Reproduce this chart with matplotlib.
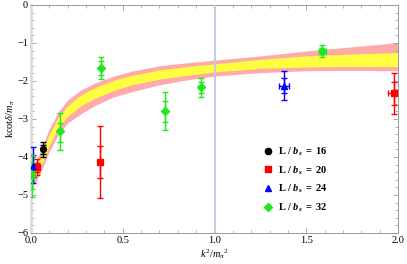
import numpy as np
import matplotlib
matplotlib.use("Agg")
import matplotlib.pyplot as plt
from matplotlib.ticker import MultipleLocator, FuncFormatter
from matplotlib.lines import Line2D

plt.rcParams["font.family"] = ["Liberation Serif", "DejaVu Serif"]
plt.rcParams["mathtext.fontset"] = "custom"
plt.rcParams["mathtext.rm"] = "Liberation Serif"
plt.rcParams["mathtext.it"] = "Liberation Serif:italic"
plt.rcParams["mathtext.bf"] = "Liberation Serif:bold"
plt.rcParams["mathtext.bfit"] = "Liberation Serif:bold:italic"

# ------------------------------------------------------------------
# fit band
# ------------------------------------------------------------------
band_x = [0.0, 0.03, 0.06, 0.1, 0.15, 0.2, 0.27, 0.35, 0.45, 0.55, 0.7, 0.85, 1.0, 1.25, 1.5, 1.75, 2.0]
pink_top = [-4.35, -4.08, -3.75, -3.25, -2.80, -2.50, -2.24, -2.05, -1.87, -1.74, -1.60, -1.52, -1.45, -1.34, -1.21, -1.10, -0.99]
yel_top = [-4.48, -4.22, -3.90, -3.40, -2.95, -2.65, -2.37, -2.17, -1.98, -1.85, -1.71, -1.62, -1.55, -1.43, -1.34, -1.29, -1.25]
yel_bot = [-4.70, -4.45, -4.15, -3.68, -3.22, -2.93, -2.66, -2.45, -2.25, -2.10, -1.95, -1.85, -1.76, -1.67, -1.63, -1.62, -1.62]
pink_bot = [-4.85, -4.62, -4.32, -3.85, -3.40, -3.10, -2.87, -2.64, -2.42, -2.28, -2.10, -1.97, -1.87, -1.78, -1.73, -1.72, -1.73]

# ------------------------------------------------------------------
# lattice points: value, stat range, total range
# ------------------------------------------------------------------
L16_x = [0.067]
L16_y = [-3.80]
L16_stat_hi = [-3.68]
L16_stat_lo = [-3.92]
L16_tot_hi = [-3.60]
L16_tot_lo = [-4.01]
L16_xerr = [0.0]

L20_x = [0.03, 0.376, 1.98]
L20_y = [-4.27, -4.14, -2.32]
L20_stat_hi = [-4.15, -3.71, -2.02]
L20_stat_lo = [-4.40, -4.54, -2.63]
L20_tot_hi = [-4.05, -3.18, -1.78]
L20_tot_lo = [-4.47, -5.08, -2.87]
L20_xerr = [0.005, 0.0, 0.035]

L24_x = [0.013, 1.379]
L24_y = [-4.24, -2.12]
L24_stat_hi = [-3.95, -1.91]
L24_stat_lo = [-4.52, -2.31]
L24_tot_hi = [-3.73, -1.74]
L24_tot_lo = [-4.68, -2.50]
L24_xerr = [0.0, 0.025]

L32_x = [0.005, 0.158, 0.38, 0.73, 0.925, 1.588]
L32_y = [-4.47, -3.32, -1.66, -2.78, -2.15, -1.20]
L32_stat_hi = [-4.16, -3.10, -1.47, -2.52, -2.02, -1.12]
L32_stat_lo = [-4.84, -3.60, -1.84, -3.07, -2.32, -1.28]
L32_tot_hi = [-3.95, -2.84, -1.37, -2.28, -1.91, -1.05]
L32_tot_lo = [-5.05, -3.82, -1.95, -3.29, -2.43, -1.36]
L32_xerr = [0.0, 0.0, 0.0, 0.0, 0.0, 0.02]

labels = ["16", "20", "24", "32"]
colors = ["#000000", "#ff0000", "#0000ff", "#20e820"]
markers = ["o", "s", "^", "D"]

fig = plt.figure(figsize=(4.07, 2.64), dpi=100)
ax = fig.add_axes([31 / 407, 1 - 233 / 264, 367 / 407, 228 / 264])

ax.fill_between(band_x, pink_bot, pink_top, color="#ffaaaa", lw=0, zorder=1)
ax.fill_between(band_x, yel_bot, yel_top, color="#ffff40", lw=0, zorder=2)
ax.axvline(1.0, color="#c8c8e0", lw=1.5, zorder=3)


def draw_set(x, y, shi, slo, thi, tlo, xerr, color, marker):
    y = np.array(y)
    tot = [y - np.array(tlo), np.array(thi) - y]
    stat = [y - np.array(slo), np.array(shi) - y]
    ax.errorbar(x, y, yerr=tot, fmt="none", ecolor=color, elinewidth=1.0,
                capsize=2, capthick=1.0, zorder=5)
    ax.errorbar(x, y, yerr=stat, xerr=xerr, fmt="none", ecolor=color, elinewidth=1.0,
                capsize=2, capthick=1.0, zorder=5)
    ms = 4.2 if marker != "D" else 3.6
    ax.plot(x, y, ls="none", marker=marker, ms=ms, color=color, mec=color, zorder=6)


sets = [
    (L16_x, L16_y, L16_stat_hi, L16_stat_lo, L16_tot_hi, L16_tot_lo, L16_xerr),
    (L20_x, L20_y, L20_stat_hi, L20_stat_lo, L20_tot_hi, L20_tot_lo, L20_xerr),
    (L24_x, L24_y, L24_stat_hi, L24_stat_lo, L24_tot_hi, L24_tot_lo, L24_xerr),
    (L32_x, L32_y, L32_stat_hi, L32_stat_lo, L32_tot_hi, L32_tot_lo, L32_xerr),
]
for s, c, m in zip(sets, colors, markers):
    draw_set(*s, c, m)

ax.set_xlim(0, 2.0)
ax.set_ylim(-6, 0)
ax.xaxis.set_major_locator(MultipleLocator(0.5))
ax.xaxis.set_minor_locator(MultipleLocator(0.1))
ax.yaxis.set_major_locator(MultipleLocator(1))
ax.yaxis.set_minor_locator(MultipleLocator(0.2))
ax.xaxis.set_major_formatter(FuncFormatter(lambda v, p: f"{v:.1f}"))
ax.yaxis.set_major_formatter(FuncFormatter(lambda v, p: f"{v:.0f}".replace("-", "\u2212")))
ax.tick_params(which="both", direction="in", top=True, right=True,
               color="#999999", labelsize=7.5, pad=2)
ax.tick_params(which="major", length=3.5, width=0.6)
ax.tick_params(which="minor", length=2, width=0.5)
for sp in ax.spines.values():
    sp.set_color("#999999")
    sp.set_linewidth(0.7)
ax.spines["left"].set_color("#d8d8d8")
ax.spines["left"].set_linewidth(1.8)

ax.set_xlabel(r"$k^2/m_\pi{}^2$", fontsize=7.5, labelpad=2)
ax.set_ylabel(r"kcot$\delta/m_\pi$", fontsize=7.5, labelpad=0)

handles = [Line2D([], [], ls="none", marker=m, color=c, ms=4.5 if m != "D" else 4)
           for m, c in zip(markers, colors)]
leg_labels = [r"$\mathbf{L\ /\ }\boldsymbol{b}_{\boldsymbol{s}}\mathbf{\ =\ %s}$" % v for v in labels]
ax.legend(handles, leg_labels, loc="lower left", bbox_to_anchor=(0.62, 0.065),
          frameon=False, fontsize=7.5, handletextpad=0.5, labelspacing=0.6,
          handlelength=1.0, borderaxespad=0)

fig.savefig("out.png", dpi=100)
